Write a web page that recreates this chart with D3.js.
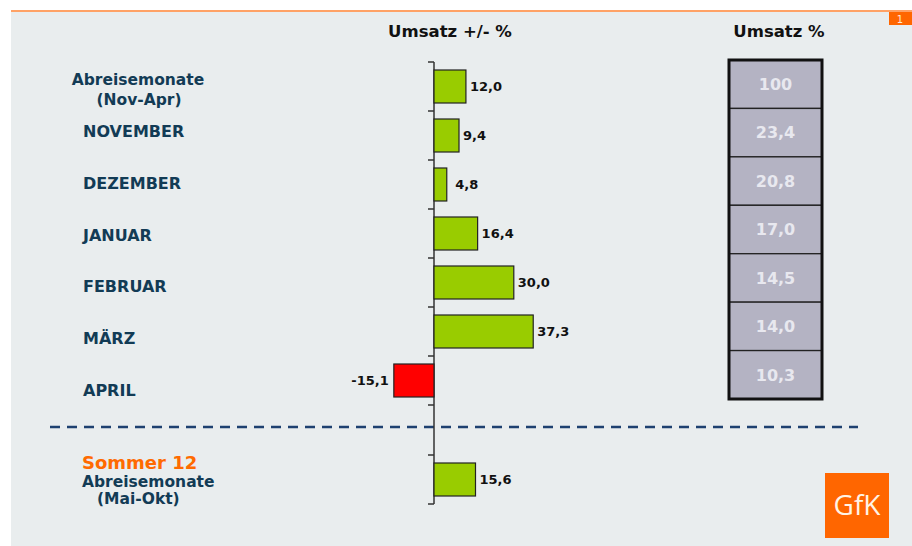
<!DOCTYPE html>
<html>
<head>
<meta charset="utf-8">
<script src="https://cdn.jsdelivr.net/npm/d3@7"></script>
<style>
  html, body { margin: 0; padding: 0; background: #fff; }
  svg { display: block; font-family: "DejaVu Sans", Verdana, sans-serif; }
</style>
</head>
<body>
<svg id="chart" width="912" height="546"></svg>
<script>
// winter months: change in revenue and share of revenue
const categories = ['Abreisemonate (Nov-Apr)', 'NOVEMBER', 'DEZEMBER', 'JANUAR', 'FEBRUAR', 'MÄRZ', 'APRIL'];
const changeValues = [12.0, 9.4, 4.8, 16.4, 30.0, 37.3, -15.1];
const shareValues = [100, 23.4, 20.8, 17.0, 14.5, 14.0, 10.3];
// summer block below the dashed line
const summerCategories = ['Abreisemonate (Mai-Okt)'];
const summerValues = [15.6];
const headings = ['Umsatz +/- %', 'Umsatz %'];

const svg = d3.select('#chart');
const W = 912, H = 546;
const de = d3.formatLocale({ decimal: ',', thousands: '.', grouping: [3], currency: ['', '€'], minus: '-' });
const fmt = de.format('.1f');
const labelColor = '#123b55';

// background + top rule
svg.append('rect').attr('x', 11).attr('y', 12).attr('width', W - 11).attr('height', H - 12).attr('fill', '#e9edee');
svg.append('line').attr('x1', 11).attr('x2', W).attr('y1', 11).attr('y2', 11)
  .attr('stroke', '#ffa266').attr('stroke-width', 2);
svg.append('rect').attr('x', 889).attr('y', 12).attr('width', 23).attr('height', 13).attr('fill', '#ff6600');
svg.append('text').attr('x', 900).attr('y', 22.5).attr('text-anchor', 'middle')
  .attr('font-size', 10).attr('fill', '#ffe8d8').text('1');

// scales
const x = d3.scaleLinear().domain([-20, 40]).range([434 - 20 * 2.66, 434 + 40 * 2.66]);
const pad = 16 / 49;
const y = d3.scaleBand().domain(categories).range([62, 405]).paddingInner(pad).paddingOuter(pad / 2);
const ySummer = d3.scaleBand().domain(summerCategories).range([455, 504]).paddingInner(pad).paddingOuter(pad / 2);
const yLabel = d3.scalePoint().domain(categories).range([85, 396]);

// headings
svg.selectAll('.heading')
  .data(headings)
  .enter()
  .append('text')
  .attr('class', 'heading')
  .attr('x', (d, i) => i === 0 ? 450 : 779)
  .attr('y', 37)
  .attr('text-anchor', 'middle')
  .attr('font-size', 16.5)
  .attr('font-weight', 'bold')
  .attr('fill', '#111')
  .text(d => d);

// dashed separator
svg.append('line').attr('x1', 50).attr('x2', 858).attr('y1', 427).attr('y2', 427)
  .attr('stroke', '#1e4170').attr('stroke-width', 2.5).attr('stroke-dasharray', '10,7');

// axis at zero
const x0 = x(0);
svg.append('line').attr('x1', x0).attr('x2', x0).attr('y1', 62).attr('y2', 504)
  .attr('stroke', '#333').attr('stroke-width', 1.5);
const tickYs = d3.range(categories.length + 1).map(i => 62 + i * y.step())
  .concat(d3.range(summerCategories.length + 1).map(i => 455 + i * ySummer.step()));
svg.selectAll('.tick')
  .data(tickYs)
  .enter()
  .append('line')
  .attr('class', 'tick')
  .attr('x1', x0 - 6).attr('x2', x0)
  .attr('y1', d => d).attr('y2', d => d)
  .attr('stroke', '#333').attr('stroke-width', 1.5);

const drawBars = (data, scaleY, keys) => {
  let g = svg.append('g');
  g.selectAll('.bar')
    .data(data)
    .enter()
    .append('rect')
    .attr('class', 'bar')
    .attr('x', d => x(Math.min(0, d)))
    .attr('y', (d, i) => scaleY(keys[i]))
    .attr('width', d => Math.abs(x(d) - x0))
    .attr('height', scaleY.bandwidth())
    .attr('fill', d => d < 0 ? '#ff0000' : '#99cc00')
    .attr('stroke', '#222')
    .attr('stroke-width', 1.2);
  g.selectAll('.label')
    .data(data)
    .enter()
    .append('text')
    .attr('class', 'label')
    // short bars get their label pushed out a little, as in the original
    .attr('x', d => d < 0 ? x(d) - 5 : Math.max(x(d) + 4, x(8)))
    .attr('y', (d, i) => scaleY(keys[i]) + scaleY.bandwidth() / 2)
    .attr('dy', '0.36em')
    .attr('text-anchor', d => d < 0 ? 'end' : 'start')
    .attr('font-size', 13)
    .attr('font-weight', 'bold')
    .attr('fill', '#111')
    .text(d => fmt(d));
};
drawBars(changeValues, y, categories);
drawBars(summerValues, ySummer, summerCategories);

// category labels
categories.forEach((c, i) => {
  if (i === 0) {
    let t = svg.append('text').attr('text-anchor', 'middle').attr('font-size', 15.5)
      .attr('font-weight', 'bold').attr('fill', labelColor);
    t.append('tspan').attr('x', 138).attr('y', yLabel(c)).text('Abreisemonate');
    t.append('tspan').attr('x', 139).attr('y', yLabel(c) + 20).text('(Nov-Apr)');
  } else {
    svg.append('text').attr('x', 83).attr('y', yLabel(c)).attr('font-size', 16)
      .attr('font-weight', 'bold').attr('fill', labelColor).text(c);
  }
});

// summer label
svg.append('text').attr('x', 82).attr('y', 469).attr('font-size', 18)
  .attr('font-weight', 'bold').attr('fill', '#ff6a00').text('Sommer 12');
let st = svg.append('text').attr('font-size', 15.5).attr('font-weight', 'bold').attr('fill', labelColor);
st.append('tspan').attr('x', 82).attr('y', 487).text('Abreisemonate');
st.append('tspan').attr('x', 97).attr('y', 504).text('(Mai-Okt)');

// share table
const yTable = d3.scaleBand().domain(categories).range([60, 399]);
const tbl = svg.append('g');
tbl.selectAll('.cell')
  .data(shareValues)
  .enter()
  .append('rect')
  .attr('class', 'cell')
  .attr('x', 729)
  .attr('y', (d, i) => yTable(categories[i]))
  .attr('width', 93)
  .attr('height', yTable.bandwidth())
  .attr('fill', '#b4b3c3')
  .attr('stroke', '#222')
  .attr('stroke-width', 1.3);
tbl.append('rect').attr('x', 729).attr('y', 60).attr('width', 93).attr('height', 339)
  .attr('fill', 'none').attr('stroke', '#111').attr('stroke-width', 3);
tbl.selectAll('.cell-label')
  .data(shareValues)
  .enter()
  .append('text')
  .attr('class', 'cell-label')
  .attr('x', 775.5)
  .attr('y', (d, i) => yTable(categories[i]) + yTable.bandwidth() / 2)
  .attr('dy', '0.36em')
  .attr('text-anchor', 'middle')
  .attr('font-size', 16)
  .attr('font-weight', 'bold')
  .attr('fill', '#e8e8ef')
  .text(d => d === 100 ? '100' : fmt(d));

// GfK logo
svg.append('rect').attr('x', 825).attr('y', 473).attr('width', 64).attr('height', 65).attr('fill', '#ff6600');
svg.append('text').attr('x', 857).attr('y', 515).attr('text-anchor', 'middle')
  .attr('font-family', '"Open Sans", sans-serif').attr('font-size', 28)
  .attr('fill', '#fff4e6').text('GfK');
</script>
</body>
</html>
